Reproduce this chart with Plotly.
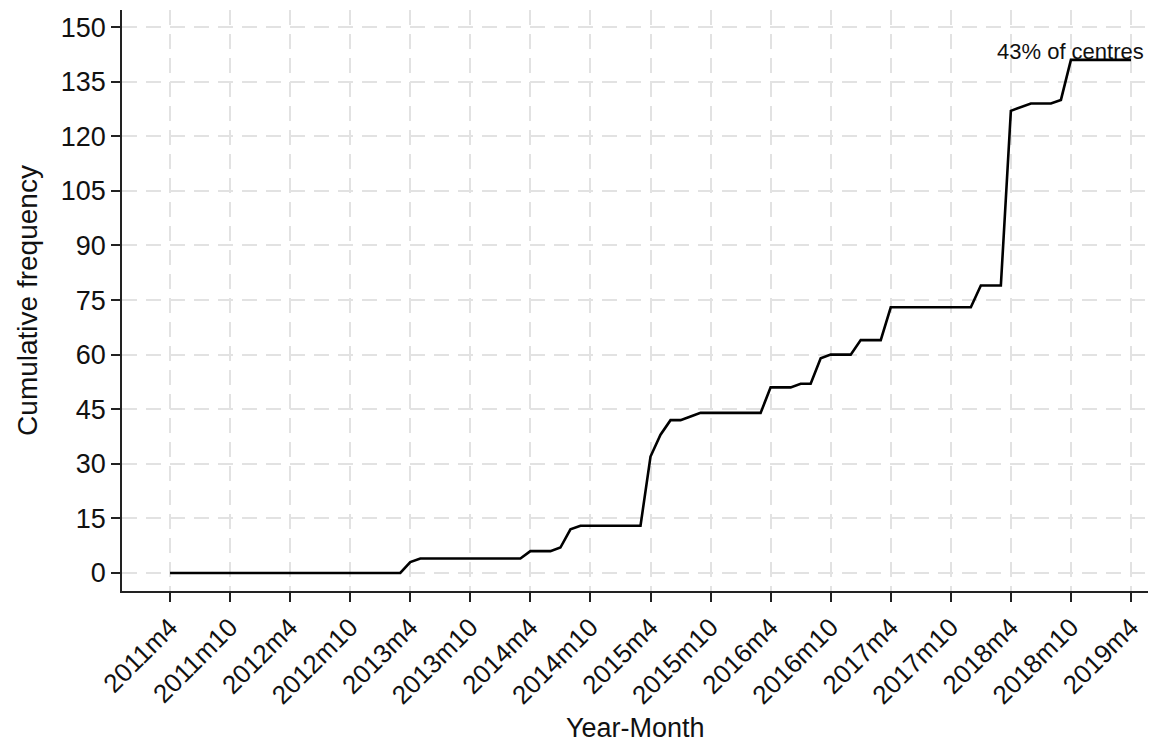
import plotly.graph_objects as go

# Cumulative number of centres, one value per month from 2011m4 to 2019m4
cumulative = [
    0, 0, 0, 0, 0, 0, 0, 0, 0, 0, 0, 0,          # 2011m4 - 2012m3
    0, 0, 0, 0, 0, 0, 0, 0, 0, 0, 0, 0,          # 2012m4 - 2013m3
    3, 4, 4, 4, 4, 4, 4, 4, 4, 4, 4, 4,          # 2013m4 - 2014m3
    6, 6, 6, 7, 12, 13, 13, 13, 13, 13, 13, 13,  # 2014m4 - 2015m3
    32, 38, 42, 42, 43, 44, 44, 44, 44, 44, 44, 44,  # 2015m4 - 2016m3
    51, 51, 51, 52, 52, 59, 60, 60, 60, 64, 64, 64,  # 2016m4 - 2017m3
    73, 73, 73, 73, 73, 73, 73, 73, 73, 79, 79, 79,  # 2017m4 - 2018m3
    127, 128, 129, 129, 129, 130, 141, 141, 141, 141, 141, 141,  # 2018m4 - 2019m3
    141,                                          # 2019m4
]

tick_months = list(range(0, 97, 6))
tick_labels = [
    "2011m4", "2011m10", "2012m4", "2012m10", "2013m4", "2013m10",
    "2014m4", "2014m10", "2015m4", "2015m10", "2016m4", "2016m10",
    "2017m4", "2017m10", "2018m4", "2018m10", "2019m4",
]
y_ticks = list(range(0, 151, 15))
note_text = "43% of centres"
note_month = 90
x_title = "Year-Month"
y_title = "Cumulative frequency"

months = list(range(len(cumulative)))

font_family = "Liberation Sans, Arial, sans-serif"
grid_color = "#e2e2e2"
axis_color = "#222222"

fig = go.Figure()
fig.add_trace(go.Scatter(
    x=months,
    y=cumulative,
    mode="lines",
    line=dict(color="#000000", width=2.6),
    hoverinfo="skip",
    showlegend=False,
))

# Label at the final plateau
fig.add_annotation(
    x=note_month,
    y=cumulative[note_month],
    text=note_text,
    showarrow=False,
    xanchor="center",
    yanchor="bottom",
    yshift=-6,
    font=dict(family=font_family, size=22, color="#111111"),
)

# Horizontal axis title, below the slanted month labels
fig.add_annotation(
    x=0.5,
    y=-0.236,
    xref="paper",
    yref="paper",
    text=x_title,
    showarrow=False,
    xanchor="center",
    yanchor="middle",
    font=dict(family=font_family, size=27, color="#111111"),
)

fig.update_layout(
    width=1153,
    height=749,
    margin=dict(l=122, r=5, t=10, b=158),
    paper_bgcolor="white",
    plot_bgcolor="white",
    font=dict(family=font_family, color="#111111"),
    xaxis=dict(
        range=[-4.8, 97.7],
        tickmode="array",
        tickvals=tick_months,
        ticktext=tick_labels,
        tickangle=-45,
        tickfont=dict(size=26),
        ticks="outside",
        ticklen=9,
        tickwidth=1.5,
        tickcolor=axis_color,
        showline=True,
        linecolor=axis_color,
        linewidth=1.5,
        showgrid=True,
        gridcolor=grid_color,
        gridwidth=1.5,
        griddash="15px,9px",
        zeroline=False,
    ),
    yaxis=dict(
        range=[-4.95, 154.7],
        tickmode="array",
        tickvals=y_ticks,
        ticks="outside",
        ticklen=9,
        tickwidth=1.5,
        tickcolor=axis_color,
        tickfont=dict(size=27),
        showline=True,
        linecolor=axis_color,
        linewidth=1.5,
        showgrid=True,
        gridcolor=grid_color,
        gridwidth=1.5,
        griddash="15px,9px",
        zeroline=False,
        title=dict(text=y_title, font=dict(size=28), standoff=15),
    ),
)

fig.write_html("out.html")
